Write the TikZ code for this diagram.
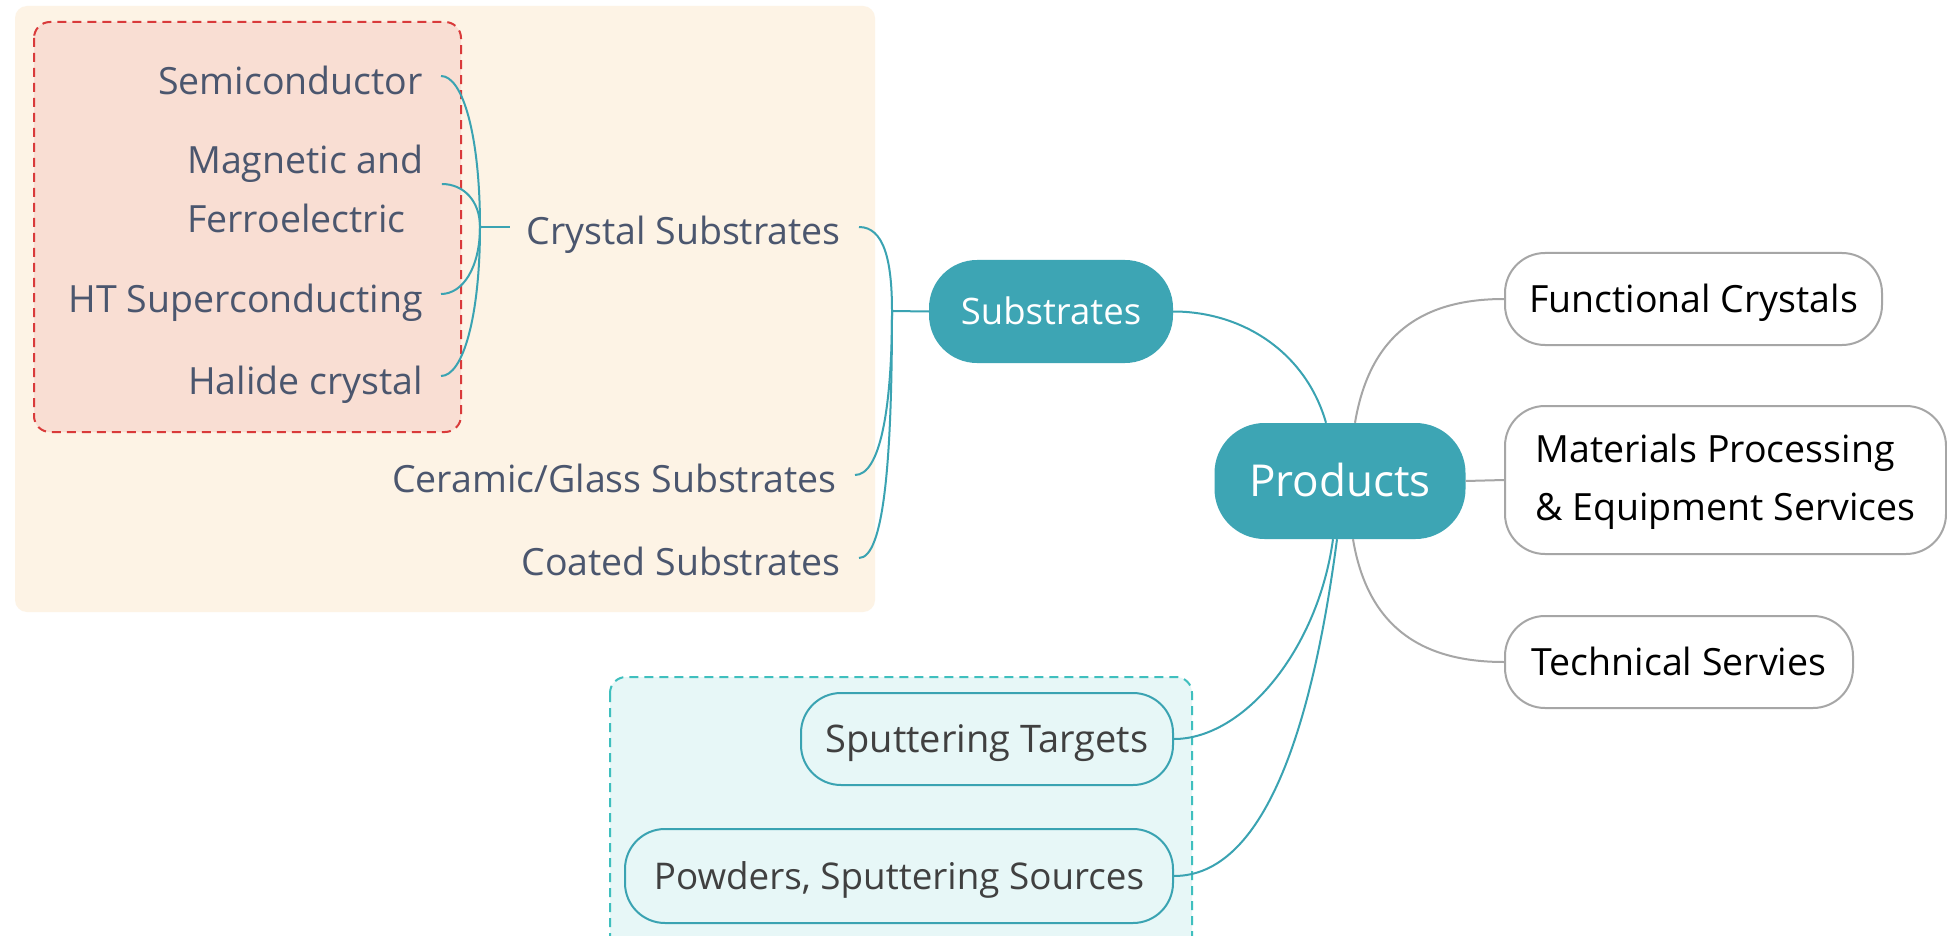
\documentclass[tikz,border=0pt]{standalone}
\usepackage{fontspec}
\setmainfont{Open Sans}
\usetikzlibrary{calc}
\definecolor{teal1}{HTML}{3DA5B4}
\definecolor{tealline}{HTML}{3AA3B2}
\definecolor{grayline}{HTML}{A6A6A6}
\definecolor{beige}{HTML}{FDF3E5}
\definecolor{salmon}{HTML}{F9DED3}
\definecolor{reddash}{HTML}{D93A3A}
\definecolor{lcyan}{HTML}{E7F7F7}
\definecolor{cyandash}{HTML}{3FBFBE}
\definecolor{slate}{HTML}{4B566E}
\definecolor{darktext}{HTML}{404040}
\tikzset{
  lbl/.style={inner sep=0pt, text=slate, font=\fontsize{37.5}{44}\selectfont, text height=27pt, text depth=0pt},
  mainbox/.style={fill=teal1, text=white, inner sep=0pt, text height=26pt, text depth=0pt, font=\fontsize{36.5}{44}\selectfont},
  graybox/.style={draw=grayline, line width=2pt, fill=white, text=black, inner sep=0pt, rounded corners=40pt, font=\fontsize{37.5}{58}\selectfont},
  cyanbox/.style={draw=tealline, line width=2pt, fill=lcyan, text=darktext, inner sep=0pt, rounded corners=40pt, font=\fontsize{38}{44}\selectfont, text height=27pt, text depth=0pt},
  tline/.style={draw=tealline, line width=2pt},
  gline/.style={draw=grayline, line width=2pt},
}
\begin{document}
\begin{tikzpicture}[x=1pt, y=-1pt]
\useasboundingbox (0,0) rectangle (1947,936);
\fill[white] (0,0) rectangle (1947,936);
% group backgrounds
\fill[beige, rounded corners=12pt] (15,6) rectangle (875,612);
\draw[reddash, fill=salmon, line width=2pt, dash pattern=on 9pt off 6pt, rounded corners=16pt] (34,22) rectangle (461,432);
\draw[cyandash, fill=lcyan, line width=2pt, dash pattern=on 9pt off 6pt, rounded corners=16pt] (610,677) rectangle (1192,960);

% left labels
\node[lbl, anchor=east] (semi) at (423,81) {Semiconductor};
\node[inner sep=0pt, text=slate, font=\fontsize{37.5}{59}\selectfont, align=left, anchor=west] (mag) at (187,189) {Magnetic and\\Ferroelectric};
\node[lbl, anchor=east] (hts) at (423,299) {HT Superconducting};
\node[lbl, anchor=east] (hal) at (423,381) {Halide crystal};
\node[lbl, anchor=east] (crys) at (841,231) {Crystal Substrates};
\node[lbl, anchor=east] (cer) at (837,479) {Ceramic/Glass Substrates};
\node[lbl, anchor=east] (coat) at (841,562) {Coated Substrates};

% main nodes
\node[mainbox, minimum width=244pt, minimum height=103pt, rounded corners=48pt] (sub) at (1051,311.5) {Substrates};
\node[mainbox, minimum width=251pt, minimum height=116pt, rounded corners=50pt, font=\fontsize{44}{52}\selectfont, text height=31pt] (prod) at (1340,481) {Products};

% right nodes
\node[graybox, minimum width=377pt, minimum height=92pt, text height=27pt, text depth=0pt] (func) at (1693.5,299) {Functional Crystals};
\node[graybox, minimum width=441pt, minimum height=148pt] (mat) at (1725.5,480) {\raisebox{-4pt}{\begin{tabular}{@{}l@{}}Materials Processing\\\& Equipment Services\end{tabular}}};
\node[graybox, minimum width=348pt, minimum height=92pt, text height=27pt, text depth=0pt] (tech) at (1679,662) {Technical Servies};

% bottom nodes
\node[cyanbox, minimum width=372pt, minimum height=92pt] (sput) at (987,739) {Sputtering Targets};
\node[cyanbox, minimum width=548pt, minimum height=94pt, font=\fontsize{36.8}{44}\selectfont] (pow) at (899,876) {Powders, Sputtering Sources};

% junctions
\coordinate (j1) at (480,227);
\coordinate (j2) at (892,311);

% crystal substrate children
\foreach \n in {semi,mag,hts,hal}{
  \draw[tline] ($(\n.east)+(18,-5)$) coordinate (s) .. controls ($(s)+(22,0)$) and ($(j1)!0.6!(j1|-s)$) .. (j1);
}
\draw[tline] (j1) -- ($(crys.west)+(-16,-4)$);

% substrates children
\foreach \n in {crys,cer,coat}{
  \draw[tline] ($(\n.east)+(18,-4)$) coordinate (s) .. controls ($(s)+(25,0)$) and ($(j2)!0.6!(j2|-s)$) .. (j2);
}
\draw[tline] (j2) -- (sub.west);

% products connectors
\draw[tline] (sub.east) .. controls +(70,0) and +(-20,-70) .. ($(prod.north)+(-14,0)$);
\draw[gline] ($(prod.north)+(15,0)$) .. controls +(15,-90) and +(-80,0) .. (func.west);
\draw[gline] (prod.east) -- (mat.west);
\draw[gline] ($(prod.south)+(13,0)$) .. controls +(15,90) and +(-80,0) .. (tech.west);
\draw[tline] ($(prod.south)+(-7,0)$) .. controls +(-15,110) and +(70,0) .. (sput.east);
\draw[tline] ($(prod.south)+(-3,0)$) .. controls +(-25,190) and +(90,0) .. (pow.east);
\end{tikzpicture}
\end{document}
